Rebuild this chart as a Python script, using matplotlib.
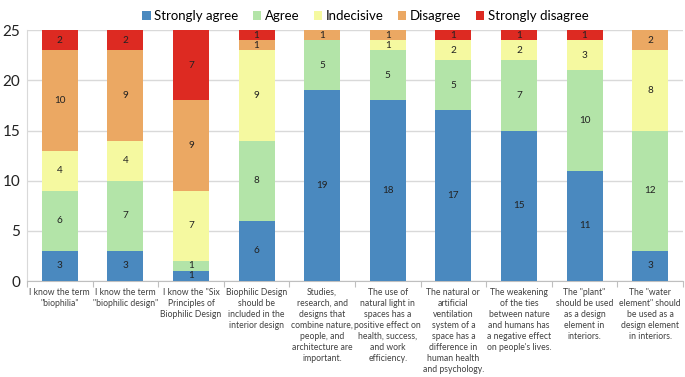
import matplotlib
matplotlib.use("Agg")
import matplotlib.pyplot as plt
import numpy as np

categories = [
    'I know the term\n"biophilia"',
    'I know the term\n"biophilic design"',
    'I know the "Six\nPrinciples of\nBiophilic Design',
    'Biophilic Design\nshould be\nincluded in the\ninterior design',
    'Studies,\nresearch, and\ndesigns that\ncombine nature,\npeople, and\narchitecture are\nimportant.',
    'The use of\nnatural light in\nspaces has a\npositive effect on\nhealth, success,\nand work\nefficiency.',
    'The natural or\nartificial\nventilation\nsystem of a\nspace has a\ndifference in\nhuman health\nand psychology.',
    'The weakening\nof the ties\nbetween nature\nand humans has\na negative effect\non people\'s lives.',
    'The "plant"\nshould be used\nas a design\nelement in\ninteriors.',
    'The "water\nelement" should\nbe used as a\ndesign element\nin interiors.',
]
series_names = ["Strongly agree", "Agree", "Indecisive", "Disagree", "Strongly disagree"]
strongly_agree = [3, 3, 1, 6, 19, 18, 17, 15, 11, 3]
agree = [6, 7, 1, 8, 5, 5, 5, 7, 10, 12]
indecisive = [4, 4, 7, 9, 0, 1, 2, 2, 3, 8]
disagree = [10, 9, 9, 1, 1, 1, 0, 0, 0, 2]
strongly_disagree = [2, 2, 7, 1, 0, 0, 1, 1, 1, 0]
colors = ["#4a89bf", "#b3e4a8", "#f5f9a0", "#eba863", "#dd2a22"]

data = [strongly_agree, agree, indecisive, disagree, strongly_disagree]
FAM = ['Lato', 'DejaVu Sans']
plt.rcParams['font.family'] = FAM

fig = plt.figure(figsize=(6.85, 3.77), dpi=100)
ax = fig.add_axes([0.0394, 0.2546, 0.9576, 0.6654])

x = np.arange(len(categories))
bottom = np.zeros(len(categories))
for vals, name, c in zip(data, series_names, colors):
    vals = np.array(vals, dtype=float)
    ax.bar(x, vals, width=0.55, bottom=bottom, color=c, label=name, zorder=3)
    for xi, v, b in zip(x, vals, bottom):
        if v > 0:
            ax.text(xi, b + v / 2, str(int(v)), ha="center", va="center",
                    fontsize=7.2, color="#222222", zorder=4)
    bottom += vals

ax.set_xlim(-0.5, len(categories) - 0.5)
ax.set_ylim(0, 25)
ax.set_yticks([0, 5, 10, 15, 20, 25])
ax.yaxis.grid(True, color="#d9d9d9", linewidth=1, zorder=0)
ax.tick_params(axis="y", length=0, labelsize=11, pad=5, labelcolor="#222222")

ax.set_xticks(np.arange(-0.5, len(categories), 1.0))
ax.set_xticklabels([])
ax.tick_params(axis="x", length=4, color="#bfbfbf", direction="out")
for xi, lab in zip(x, categories):
    ax.text(xi, -0.026, lab, transform=ax.get_xaxis_transform(), ha="center", va="top",
            fontsize=6.2, color="#404040", linespacing=1.3)

for s in ["top", "right"]:
    ax.spines[s].set_visible(False)
ax.spines["bottom"].set_color("#bfbfbf")
ax.spines["left"].set_color("#d9d9d9")

fig.legend(loc="upper center", bbox_to_anchor=(0.533, 1.005), ncol=5, frameon=False,
           handlelength=0.65, handleheight=0.65, handletextpad=0.25,
           columnspacing=1.1, prop={'family': FAM, 'size': 9.5})

fig.savefig("out.png", dpi=100)
